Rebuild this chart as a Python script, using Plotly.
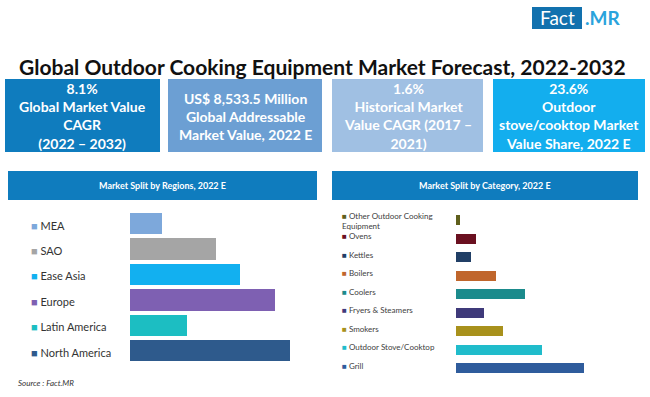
import plotly.graph_objects as go

W, H = 650, 397

# ---------------- data ----------------
regions = ["MEA", "SAO", "Ease Asia", "Europe", "Latin America", "North America"]
region_share = [5.4, 14.6, 18.7, 24.5, 9.7, 27.1]
region_colors = ["#7DA8DB", "#A5A5A5", "#12B0F0", "#7E60B2", "#1CBEC2", "#2E5A8C"]

categories = ["Other Outdoor Cooking<br>Equipment", "Ovens", "Kettles", "Boilers", "Coolers",
              "Fryers & Steamers", "Smokers", "Outdoor Stove/Cooktop", "Grill"]
category_share = [1.1, 5.5, 4.1, 11.0, 18.9, 7.7, 12.9, 23.6, 35.1]
category_colors = ["#5F5F1C", "#6A1020", "#213F66", "#C0662C", "#1B8B8C",
                   "#3F3A7A", "#A8911C", "#20BCCB", "#2F5C9C"]

title = "Global Outdoor Cooking Equipment Market Forecast, 2022-2032"
kpi_texts = [
    "8.1%<br>Global Market Value<br>CAGR<br>(2022 – 2032)",
    "US$ 8,533.5 Million<br>Global Addressable<br>Market Value, 2022 E",
    "1.6%<br>Historical Market<br>Value CAGR (2017 –<br>2021)",
    "23.6%<br>Outdoor<br>stove/cooktop Market<br>Value Share, 2022 E",
]
kpi_colors = ["#0F7CBE", "#6C9FD3", "#A0C0E3", "#13AEEE"]
left_header = "Market Split by Regions, 2022 E"
right_header = "Market Split by Category, 2022 E"
source = "Source : Fact.MR"

FONT = "Lato"


def px(x):
    return x / W


def py(y):
    return 1 - y / H


fig = go.Figure()

fig.add_trace(go.Bar(
    x=region_share, y=regions, orientation="h",
    marker=dict(color=region_colors, line=dict(width=0)),
    width=0.84, xaxis="x", yaxis="y", showlegend=False, hoverinfo="x+y",
))
fig.add_trace(go.Bar(
    x=category_share, y=categories, orientation="h",
    marker=dict(color=category_colors, line=dict(width=0)),
    width=0.53, xaxis="x2", yaxis="y2", showlegend=False, hoverinfo="x+y",
))

shapes = []
annotations = []

# logo
shapes.append(dict(type="rect", xref="paper", yref="paper", x0=px(532), x1=px(582),
                   y0=py(29), y1=py(7), fillcolor="#1271AE", line=dict(width=0), layer="below"))
annotations.append(dict(text="Fact", xref="paper", yref="paper", x=px(557), y=py(18),
                        xanchor="center", yanchor="middle", showarrow=False,
                        font=dict(family=FONT, size=19, color="white")))
annotations.append(dict(text="<b>.MR</b>", xref="paper", yref="paper", x=px(583), y=py(18),
                        xanchor="left", yanchor="middle", showarrow=False,
                        font=dict(family=FONT, size=19, color="#2AA3DC")))

# title
annotations.append(dict(text="<b>" + title + "</b>", xref="paper", yref="paper",
                        x=px(322), y=py(67), xanchor="center", yanchor="middle",
                        showarrow=False, font=dict(family=FONT, size=21, color="#111111")))

# KPI boxes
boxes = [(5, 160), (168, 322), (332, 483), (493, 645)]
for (x0, x1), txt, col in zip(boxes, kpi_texts, kpi_colors):
    shapes.append(dict(type="rect", xref="paper", yref="paper", x0=px(x0), x1=px(x1),
                       y0=py(152), y1=py(79), fillcolor=col, line=dict(width=0), layer="below"))
    annotations.append(dict(text="<b>" + txt + "</b>", xref="paper", yref="paper",
                            x=px((x0 + x1) / 2), y=py(116), xanchor="center", yanchor="middle",
                            showarrow=False, align="center",
                            font=dict(family=FONT, size=14, color="white")))

# panel headers
for (x0, x1), txt in [((8, 317), left_header), ((332, 638), right_header)]:
    shapes.append(dict(type="rect", xref="paper", yref="paper", x0=px(x0), x1=px(x1),
                       y0=py(200), y1=py(171), fillcolor="#0F7CBE", line=dict(width=0), layer="below"))
    annotations.append(dict(text="<b>" + txt + "</b>", xref="paper", yref="paper",
                            x=px((x0 + x1) / 2), y=py(185.5), xanchor="center", yanchor="middle",
                            showarrow=False, font=dict(family=FONT, size=9, color="white")))

# category labels (legend-like)
for name, col in zip(regions, region_colors):
    annotations.append(dict(text=f'<span style="color:{col}">■</span> {name}', xref="paper", yref="y",
                            x=px(29), y=name, xanchor="left", yanchor="middle", showarrow=False,
                            yshift=-1, font=dict(family=FONT, size=11, color="#333333")))
for name, col in zip(categories, category_colors):
    shift = -1 if "<br>" in name else 3
    annotations.append(dict(text=f'<span style="color:{col}">■</span> {name}', xref="paper", yref="y2",
                            x=px(340), y=name, xanchor="left", yanchor="middle", showarrow=False,
                            align="left", yshift=shift,
                            font=dict(family=FONT, size=8, color="#404040")))

# source
annotations.append(dict(text="<i>" + source + "</i>", xref="paper", yref="paper",
                        x=px(16), y=py(383), xanchor="left", yanchor="middle", showarrow=False,
                        font=dict(family=FONT, size=8, color="#333333")))

axis_off = dict(showgrid=False, zeroline=False, showticklabels=False, showline=False, ticks="")

fig.update_layout(
    width=W, height=H, margin=dict(l=0, r=0, t=0, b=0),
    paper_bgcolor="white", plot_bgcolor="white",
    bargap=0,
    xaxis=dict(domain=[px(130), px(307)], range=[0, 30], **axis_off),
    yaxis=dict(domain=[py(363.7), py(211.3)], type="category", categoryorder="array",
               categoryarray=regions, range=[len(regions) - 0.5, -0.5], **axis_off),
    xaxis2=dict(domain=[px(456), px(601.8)], range=[0, 40], anchor="y2", **axis_off),
    yaxis2=dict(domain=[py(377.75), py(211.25)], type="category", categoryorder="array",
                categoryarray=categories, range=[len(categories) - 0.5, -0.5], anchor="x2", **axis_off),
    shapes=shapes, annotations=annotations,
)

fig.write_html("out.html", config={"displayModeBar": False},
               post_script="document.body.style.margin='0';document.body.style.padding='0';")
